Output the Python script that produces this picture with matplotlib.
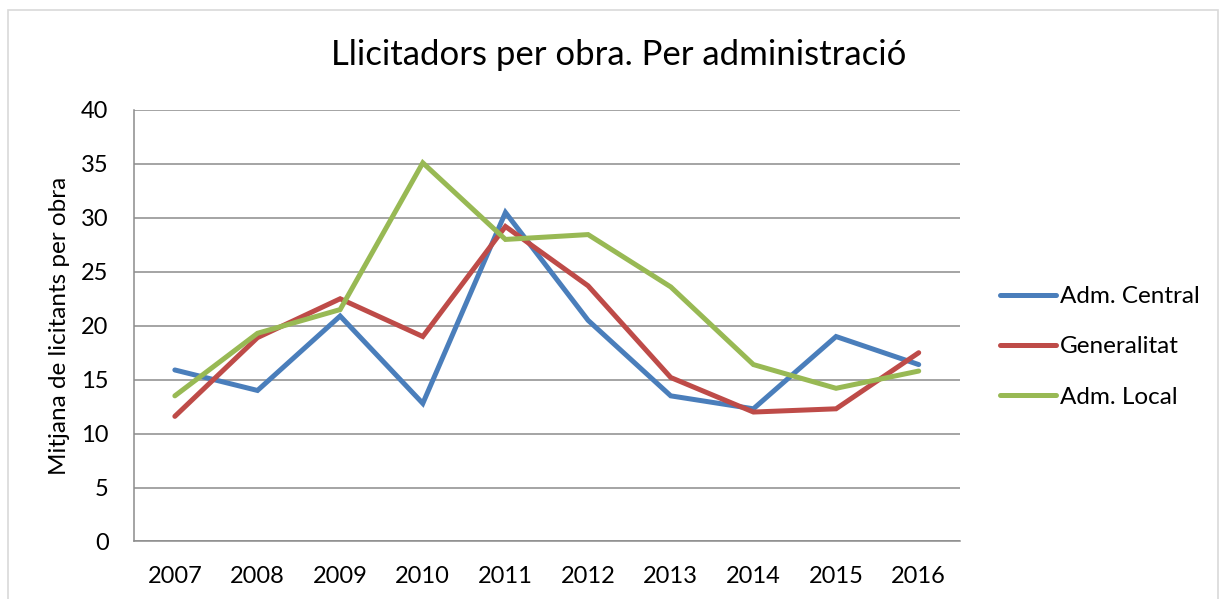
import matplotlib.pyplot as plt
from matplotlib.patches import Rectangle

plt.rcParams['font.family'] = ['Lato', 'DejaVu Sans']

years = ['2007', '2008', '2009', '2010', '2011', '2012', '2013', '2014', '2015', '2016']
adm_central = [15.9, 14.0, 20.9, 12.8, 30.5, 20.5, 13.5, 12.3, 19.0, 16.4]
generalitat = [11.6, 18.9, 22.5, 19.0, 29.2, 23.7, 15.2, 12.0, 12.3, 17.5]
adm_local = [13.5, 19.3, 21.5, 35.1, 28.0, 28.45, 23.6, 16.4, 14.2, 15.8]

series_names = ['Adm. Central', 'Generalitat', 'Adm. Local']
colors = ['#4A7EBB', '#BE4B48', '#98B954']

fig = plt.figure(figsize=(12.25, 5.99), dpi=100)
ax = fig.add_axes([0.109, 0.096, 0.6747, 0.7204])

# light outer border like the excel chart area
fig.patches.append(Rectangle((8 / 1225, -0.2), 1210 / 1225, 1.2 - 10 / 599,
                             transform=fig.transFigure, fill=False,
                             edgecolor='#d9d9d9', linewidth=1.2))

x = range(len(years))
for vals, name, c in zip([adm_central, generalitat, adm_local], series_names, colors):
    ax.plot(x, vals, color=c, linewidth=3.6, label=name,
            solid_capstyle='round', solid_joinstyle='miter')

ax.set_xlim(-0.5, 9.5)
ax.set_ylim(0, 40)
ax.set_yticks(range(0, 41, 5))
ax.set_xticks(list(x))
ax.set_xticklabels(years)
ax.yaxis.grid(True, color='#8c8c8c', linewidth=1.1)
ax.set_axisbelow(True)
for s in ['top', 'right']:
    ax.spines[s].set_visible(False)
for s in ['left', 'bottom']:
    ax.spines[s].set_color('#8c8c8c')
    ax.spines[s].set_linewidth(1.1)
ax.tick_params(axis='both', length=0, labelsize=17)
ax.tick_params(axis='y', pad=18)
ax.tick_params(axis='x', pad=18)

fig.text(0.505, 0.908, 'Llicitadors per obra. Per administració',
         ha='center', va='center', fontsize=25)
fig.text(60 / 1225, 0.456, 'Mitjana de licitants per obra', rotation=90,
         ha='center', va='center', fontsize=17.5)

fig.legend(loc='center left', bbox_to_anchor=(0.816, 0.421), frameon=False,
           fontsize=17.5, handlelength=2.3, handletextpad=0.2, labelspacing=1.2,
           borderpad=0, borderaxespad=0)

fig.savefig('out.png', dpi=100)
